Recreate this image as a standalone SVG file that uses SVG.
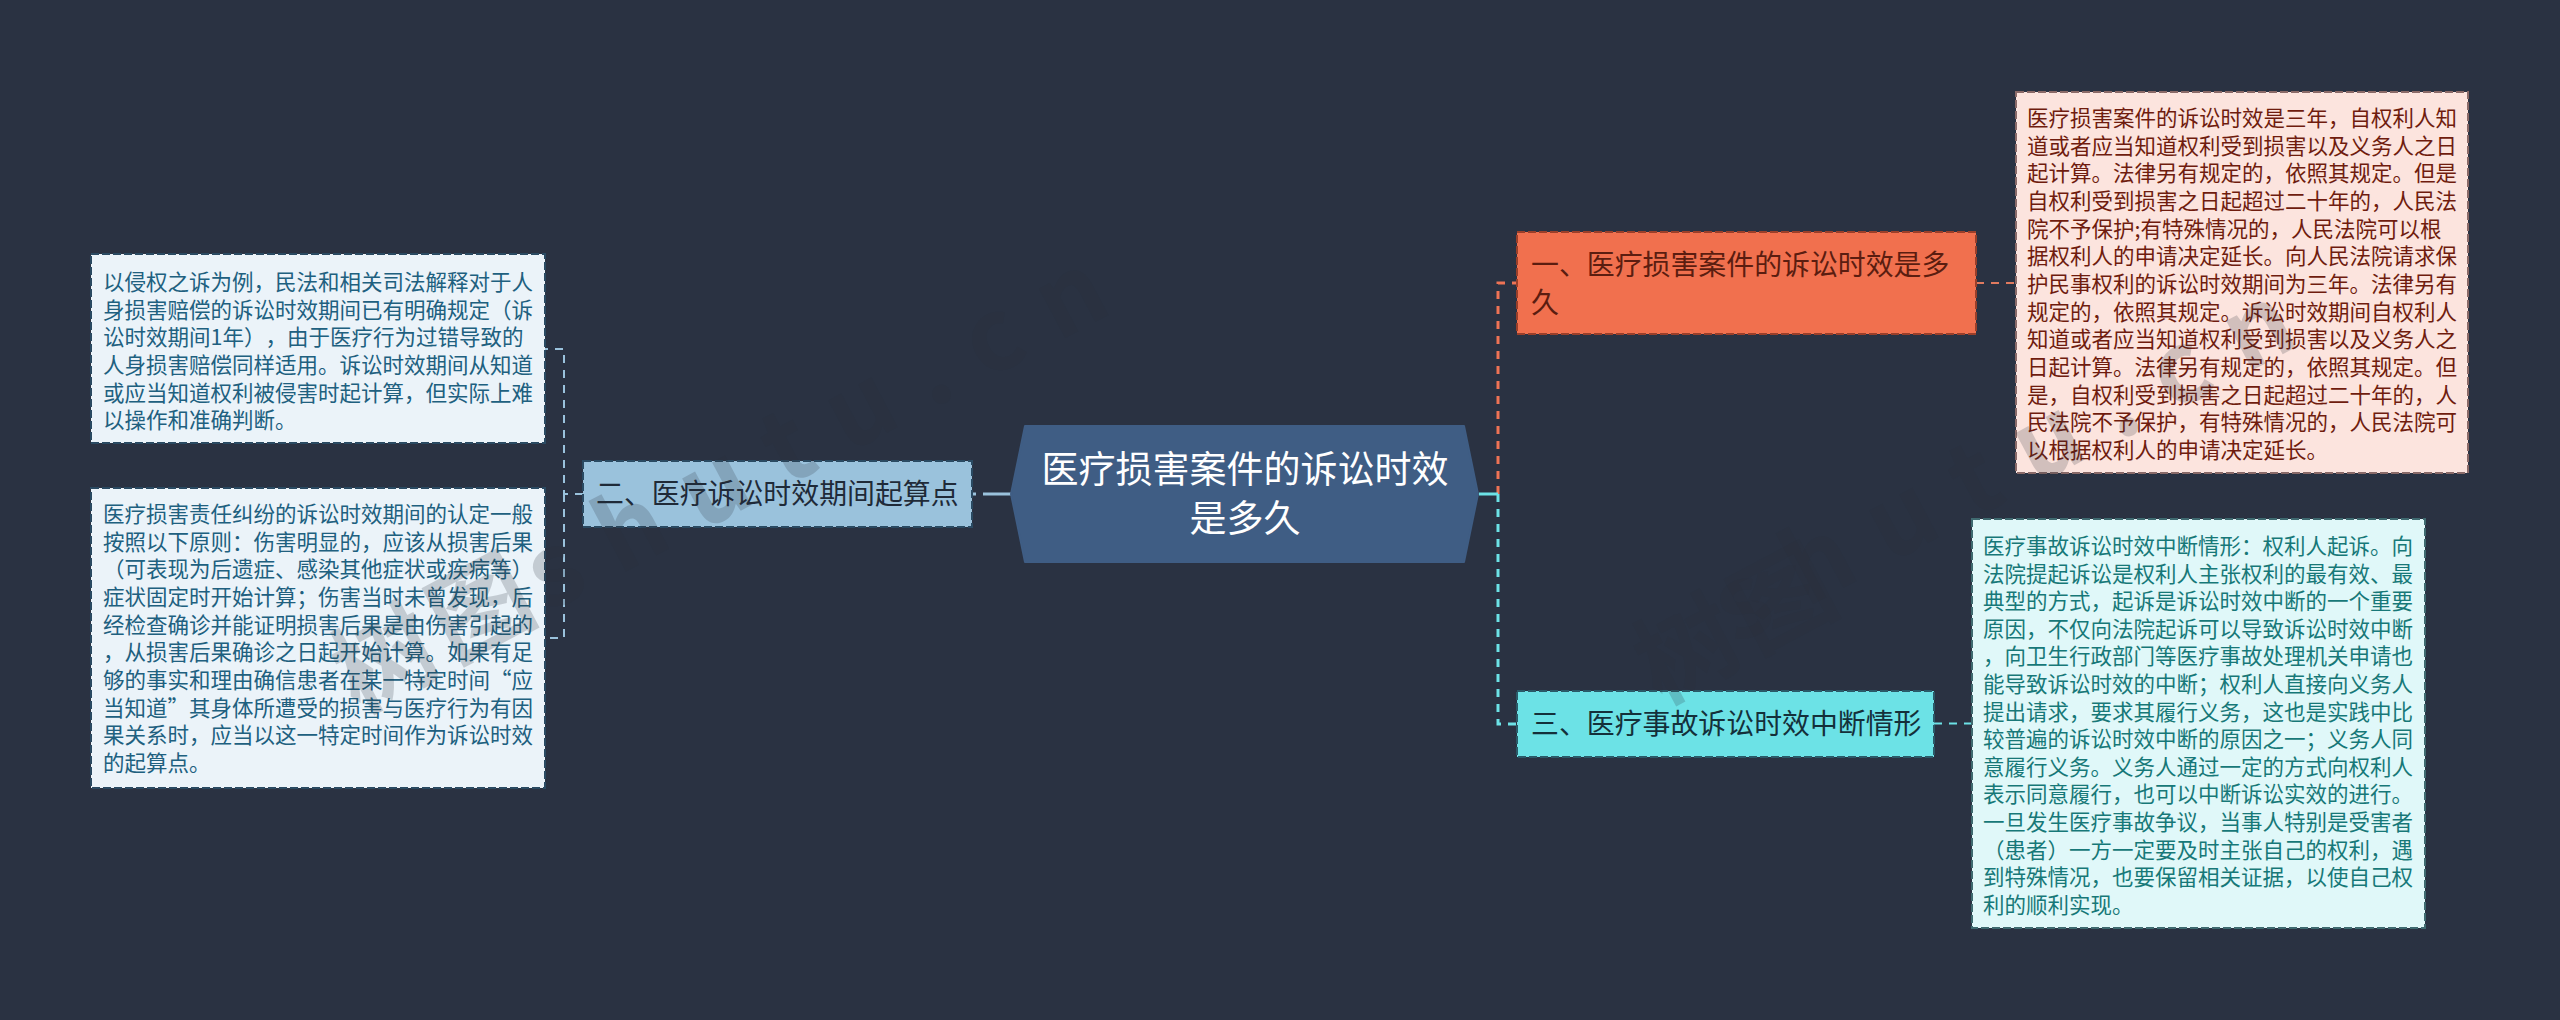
<svg xmlns="http://www.w3.org/2000/svg" width="2560" height="1020" viewBox="0 0 2560 1020" lang="zh-CN">
<style>
text{font-family:"Noto Sans CJK SC","Noto Sans",sans-serif;text-spacing-trim:space-all}
.d{font-size:21.5px}
.n{font-size:27.9px}
.c{font-size:37px;fill:#fff;text-anchor:middle}
.b{stroke-width:2;stroke-dasharray:8 3}
.l{fill:none;stroke-dasharray:8 7}
.wm{font-size:100px;font-weight:700;fill:#2a2f3a;opacity:.2}
</style>
<rect width="2560" height="1020" fill="#2a3242"/>
<g id="connectors">
<path class="l" d="M583 494H564V349H545M564 494V638H545" stroke="#9ac2dc" stroke-width="2"/>
<path d="M972 494H1011" fill="none" stroke="#9ac2dc" stroke-width="3" stroke-dasharray="4 7 28"/>
<path class="l" d="M1498 494V283H1517" stroke="#ee7355" stroke-width="3"/>
<path class="l" d="M1498 494V724H1517" stroke="#6ce2e6" stroke-width="3"/>
<path d="M1479 494H1498" fill="none" stroke="#6ce2e6" stroke-width="3"/>
<path class="l" d="M1976 283H2016" stroke="#e07a5f" stroke-width="2"/>
<path class="l" d="M1934 723.5H1972" stroke="#6ce2e6" stroke-width="2"/>
</g>
<g id="left-1">
<rect class="b" x="91" y="254" width="454" height="189" fill="#ebf3f9" stroke="#2a4a62"/>
<text class="d" fill="#20607f" y="262.3"><tspan x="103" dy="27.67">以侵权之诉为例，民法和相关司法解释对于人</tspan><tspan x="103" dy="27.67">身损害赔偿的诉讼时效期间已有明确规定（诉</tspan><tspan x="103" dy="27.67">讼时效期间1年），由于医疗行为过错导致的</tspan><tspan x="103" dy="27.67">人身损害赔偿同样适用。诉讼时效期间从知道</tspan><tspan x="103" dy="27.67">或应当知道权利被侵害时起计算，但实际上难</tspan><tspan x="103" dy="27.67">以操作和准确判断。</tspan></text>
</g>
<g id="left-2">
<rect class="b" x="91" y="488" width="454" height="300" fill="#ebf3f9" stroke="#2a4a62"/>
<text class="d" fill="#20607f" y="494.3"><tspan x="103" dy="27.67">医疗损害责任纠纷的诉讼时效期间的认定一般</tspan><tspan x="103" dy="27.67">按照以下原则：伤害明显的，应该从损害后果</tspan><tspan x="103" dy="27.67">（可表现为后遗症、感染其他症状或疾病等）</tspan><tspan x="103" dy="27.67">症状固定时开始计算；伤害当时未曾发现，后</tspan><tspan x="103" dy="27.67">经检查确诊并能证明损害后果是由伤害引起的</tspan><tspan x="103" dy="27.67">，从损害后果确诊之日起开始计算。如果有足</tspan><tspan x="103" dy="27.67">够的事实和理由确信患者在某一特定时间“应</tspan><tspan x="103" dy="27.67">当知道”其身体所遭受的损害与医疗行为有因</tspan><tspan x="103" dy="27.67">果关系时，应当以这一特定时间作为诉讼时效</tspan><tspan x="103" dy="27.67">的起算点。</tspan></text>
</g>
<g id="branch-2">
<rect class="b" x="583" y="461" width="389" height="66" fill="#9ac2dc" stroke="#2a4a62"/>
<text class="n" fill="#1f2a38" x="596" y="504">二、医疗诉讼时效期间起算点</text>
</g>
<g id="root">
<polygon points="1011,494 1025,426 1464,426 1478,494 1464,562 1025,562" fill="#3f5d84" stroke="#3f5d84" stroke-width="2" stroke-linejoin="round"/>
<text class="c" x="1245" y="483">医疗损害案件的诉讼时效</text>
<text class="c" x="1245" y="532">是多久</text>
</g>
<g id="branch-1">
<rect class="b" x="1517" y="232" width="459" height="102" fill="#f1704e" stroke="#9a3f2a"/>
<text class="n" fill="#5b1d10" x="1531" y="275">一、医疗损害案件的诉讼时效是多</text>
<text class="n" fill="#5b1d10" x="1531" y="313">久</text>
</g>
<g id="branch-3">
<rect class="b" x="1517" y="691" width="417" height="66" fill="#6ce2e6" stroke="#2a5a68"/>
<text class="n" fill="#14303a" x="1531" y="734">三、医疗事故诉讼时效中断情形</text>
</g>
<g id="right-1">
<rect class="b" x="2016" y="92" width="452" height="381" fill="#fce4de" stroke="#8a6a68"/>
<text class="d" fill="#6f1c0e" y="98.3"><tspan x="2027" dy="27.67">医疗损害案件的诉讼时效是三年，自权利人知</tspan><tspan x="2027" dy="27.67">道或者应当知道权利受到损害以及义务人之日</tspan><tspan x="2027" dy="27.67">起计算。法律另有规定的，依照其规定。但是</tspan><tspan x="2027" dy="27.67">自权利受到损害之日起超过二十年的，人民法</tspan><tspan x="2027" dy="27.67">院不予保护;有特殊情况的，人民法院可以根</tspan><tspan x="2027" dy="27.67">据权利人的申请决定延长。向人民法院请求保</tspan><tspan x="2027" dy="27.67">护民事权利的诉讼时效期间为三年。法律另有</tspan><tspan x="2027" dy="27.67">规定的，依照其规定。诉讼时效期间自权利人</tspan><tspan x="2027" dy="27.67">知道或者应当知道权利受到损害以及义务人之</tspan><tspan x="2027" dy="27.67">日起计算。法律另有规定的，依照其规定。但</tspan><tspan x="2027" dy="27.67">是，自权利受到损害之日起超过二十年的，人</tspan><tspan x="2027" dy="27.67">民法院不予保护，有特殊情况的，人民法院可</tspan><tspan x="2027" dy="27.67">以根据权利人的申请决定延长。</tspan></text>
</g>
<g id="right-2">
<rect class="b" x="1972" y="519" width="453" height="409" fill="#e0f8f9" stroke="#3f6a70"/>
<text class="d" fill="#177878" y="526.4"><tspan x="1983" dy="27.6">医疗事故诉讼时效中断情形：权利人起诉。向</tspan><tspan x="1983" dy="27.6">法院提起诉讼是权利人主张权利的最有效、最</tspan><tspan x="1983" dy="27.6">典型的方式，起诉是诉讼时效中断的一个重要</tspan><tspan x="1983" dy="27.6">原因，不仅向法院起诉可以导致诉讼时效中断</tspan><tspan x="1983" dy="27.6">，向卫生行政部门等医疗事故处理机关申请也</tspan><tspan x="1983" dy="27.6">能导致诉讼时效的中断；权利人直接向义务人</tspan><tspan x="1983" dy="27.6">提出请求，要求其履行义务，这也是实践中比</tspan><tspan x="1983" dy="27.6">较普遍的诉讼时效中断的原因之一；义务人同</tspan><tspan x="1983" dy="27.6">意履行义务。义务人通过一定的方式向权利人</tspan><tspan x="1983" dy="27.6">表示同意履行，也可以中断诉讼实效的进行。</tspan><tspan x="1983" dy="27.6">一旦发生医疗事故争议，当事人特别是受害者</tspan><tspan x="1983" dy="27.6">（患者）一方一定要及时主张自己的权利，遇</tspan><tspan x="1983" dy="27.6">到特殊情况，也要保留相关证据，以使自己权</tspan><tspan x="1983" dy="27.6">利的顺利实现。</tspan></text>
</g>
<g id="watermark">
<text class="wm" transform="translate(358 714) rotate(-28)"><tspan letter-spacing="8">树图</tspan><tspan letter-spacing="30">shutu.cn</tspan></text>
<text class="wm" transform="translate(1660 705) rotate(-28)" letter-spacing="8">树图</text>
<text class="wm" transform="translate(1736 645) rotate(-28)" letter-spacing="30">shutu.cn</text>
</g>
</svg>
